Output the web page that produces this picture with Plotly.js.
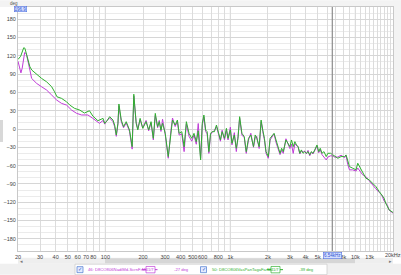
<!DOCTYPE html>
<html><head><meta charset="utf-8">
<script src="https://cdn.plot.ly/plotly-3.0.1.min.js"></script>
<style>html,body{margin:0;padding:0;background:#fff;}#chart{width:401px;height:275px;}</style>
</head><body><div id="chart"></div>
<script>
// ---- data (Hz, degrees) ----
const lowFreqGreen = [20, 21.0, 22.2, 22.7, 23.5, 24.3, 24.9, 25.8, 27.3, 29.0, 30.9, 33.9, 37.2, 39.2, 41.0, 44.6, 48.9, 51.9, 56.7, 62.2, 68.0, 74.6, 79.3, 87.1];
const lowDegGreen  = [114, 119.3, 133.2, 132.4, 121, 109.6, 101.9, 96.5, 92, 88.3, 82.9, 77.3, 69.2, 61, 52.8, 50.2, 44.6, 39.2, 33.8, 31.1, 26.2, 29.9, 21.3, 13.6];

const lowFreqMagenta = [20, 20.4, 21.1, 21.6, 22.6, 23.3, 24.2, 24.9, 25.7, 28.2, 30.9, 33.9, 37.2, 40.8, 44.6, 48.9, 53.6, 58.8, 64.4, 72.4, 79.3, 89.7];
const lowDegMagenta  = [111, 104.6, 92, 99.7, 125.4, 123.4, 110, 96.5, 82.9, 74.7, 69.2, 63.8, 55.6, 47.4, 42, 39.2, 31.1, 25.7, 23, 23, 17.5, 9.3];

const midFreq = [95.8, 98.8, 101.9, 108.2, 115, 118.6, 122.3, 126, 128.3, 134, 139.7, 146.8, 156, 163.8, 168.8, 176.2, 181.6, 189.6, 199, 211.7, 222, 231.9, 241.9, 250.8, 261.8, 269.8, 278.4, 286.6, 301.2, 318.4, 334.3, 344.4, 361.6, 377, 389, 408.6, 426.5, 444.6, 467, 490.9, 511.6, 533.8, 553.3, 578, 596, 614, 634, 652, 673, 694, 714, 746, 774, 807, 833, 859, 897, 930, 958, 1000, 1030, 1076, 1116, 1151, 1186, 1237, 1292, 1340, 1397, 1458, 1531, 1580, 1626, 1700, 1762, 1816, 1873, 1930, 2014, 2078, 2168, 2236, 2319, 2420, 2497, 2571, 2650, 2784, 2904, 2994, 3085, 3183, 3283, 3381, 3486, 3595, 3700, 3816, 3938, 4053, 4183, 4315, 4443, 4585, 4730, 4933, 5090, 5240, 5408, 5610, 5848, 6030, 6337, 6606, 6818, 7244, 7690, 8185, 8433, 8690, 8974, 9526, 10120, 10450, 10960, 11430, 12140, 12910, 13740, 14590, 15520, 16260, 16980, 17500, 18070, 18620, 20000];
const midDegGreen = [17.4, 9.3, 12, 20.2, 14.7, 6.5, -9.8, 9.3, 41, 14.7, 3.8, 12, -1.6, -28.9, 57, 9.3, -1.6, 17.4, 1.1, 12, -1.6, 12, -15.3, 25.6, 3.8, 12, -1.6, 9.3, -7.1, -45.2, -1.6, 14.7, 6.5, 14.7, -7.1, -4.4, -28.9, 12, -7.1, -15.3, -7.1, -20.7, -3, -50.7, 9.3, 22.9, -1.6, -4.4, -37.1, -7.1, -4.4, -4.4, 6.5, -9.8, -18, -4.4, -15.3, 1.1, -15.3, -1.6, -23.4, -9.8, -31.6, -15.3, 20.2, -7.1, -12.5, -37.1, -15.3, -9.8, -28.9, -9.8, -15.3, -28.9, 14.7, -1.6, -15.3, -37.1, -45.2, -15.3, -9.8, -7.1, -18, -31.6, -39.8, -31.6, -37.1, -18, -23.4, -28.9, -18, -28.9, -20.7, -26.2, -28.9, -39.8, -34.3, -39.8, -37.1, -39.8, -37.1, -42.5, -37.1, -39.8, -34.3, -26.2, -37.1, -31.6, -39.8, -37.1, -45.2, -39.8, -39.8, -42.5, -45.2, -48, -45.2, -45.2, -42.5, -50.7, -61.6, -64.3, -67, -56.1, -64.3, -72.5, -80.7, -83.4, -88.9, -94.3, -102.5, -108, -113.4, -121.6, -127, -132.5, -136.8];
const midDegMagenta = [14, 8, 13, 18, 12, 4, -12, 8, 38, 12, 2, 10, -4, -33, 54, 12, 0, 15, 2, 14, -3, 10, -18, 22, 2, 14, -4, 16, -9, -48, -3, 18, 4, 12, -10, -8, -37.1, 8, -12, -20, -10, -25, 9, -48, 6, 20, -4, -8, -40, -9, -6, -2, 4, -12, -20, -2, -18, -2, -18, 3, -26, -6, -37, -12, 18, -10, -14, -40, -18, -7, -30, -14, -12, -32, 12, -4, -18, -40, -48, -18, -12, -8, -22, -36, -42, -35, -40, -16, -27, -32, -25, -40, -24, -28, -30, -41, -36, -38, -36, -41, -35, -44, -38, -41, -36, -28, -39, -34, -42, -46, -50.7, -46, -44, -44, -46, -46, -43, -47, -44, -58, -67, -67, -69, -64, -70, -75, -78, -85, -92, -98, -104, -108, -118, -122, -125, -133, -138];

const xTickVals = [20,30,40,50,60,70,80,90,100,200,300,400,500,600,700,800,900,1000,2000,3000,4000,5000,6000,7000,8000,9000,10000,11000,12000,13000,14000,15000,16000,17000,18000,19000];
const xTickText = ['20','30','40','50','60','70','80','','100','200','300','400','500','600','','800','','1k','2k','3k','4k','5k','','','8k','','10k','','','13k','','','','','',''];
const xEndLabel = '20kHz';

const legendNames = ['46: D8CO806NadiMd-ScrnF-M4', '50: D8CO806VasPanTagaFa-M4'];
const legendOffsets = ['-27 deg', '-39 deg'];
const cursorFreq = 6540;
const cursorLabel = '6.54kHz';

// ---- layout helpers (pixel positions) ----
const L = 18, R = 393, T = 6.7, B = 251.3;
const px = x => (x - L) / (R - L);
const py = y => (B - y) / (B - T);
const MAG = '#c03cd8', GRN = '#2fb02f';

const shapes = [];
const ann = [];
function rectPx(x0, y0, x1, y1, fill, line, layer) {
  shapes.push({type:'rect', xref:'paper', yref:'paper', x0:px(x0), x1:px(x1), y0:py(y1), y1:py(y0),
    fillcolor:fill, line:{color:line||fill, width: line?0.7:0}, layer: layer||'below'});
}
function textPx(x, y, t, color, size, anchor, extra) {
  ann.push(Object.assign({xref:'paper', yref:'paper', x:px(x), y:py(y), text:t, showarrow:false,
    xanchor:anchor||'center', yanchor:'middle', font:{family:'Liberation Sans, Arial', size:size||5, color:color||'#444'}}, extra||{}));
}

// frame regions
rectPx(0, 0, 401, 6.7, '#f3f3f3');
rectPx(393, 0, 401, 258, '#f3f3f3');
rectPx(0, 120, 3, 142, '#d8d8d8');
rectPx(18, 258, 393, 264, '#eeeeee');
rectPx(105, 258.5, 355, 263.5, '#d6d6d6');
rectPx(0, 264, 401, 275, '#f0f0f0');
rectPx(75, 264.5, 327, 275, '#ffffff', '#c8c8c8');
textPx(21, 261, '◂', '#777', 5);
textPx(390, 261, '▸', '#777', 5);
textPx(393, 255.2, xEndLabel, '#444', 5.5);

// decade lines and cursor (data positions)
[100, 1000, 10000].forEach(f => shapes.push({type:'line', xref:'x', yref:'paper', x0:f, x1:f, y0:0, y1:1,
  line:{color:'#c6c6c6', width:1}, layer:'below'}));
shapes.push({type:'line', xref:'x', yref:'paper', x0:cursorFreq, x1:cursorFreq, y0:0, y1:1,
  line:{color:'#8c8c8c', width:1.2}, layer:'above'});

// top-left axis readout
textPx(14, 3, 'deg', '#555', 4.5);
textPx(20, 9.2, '196.9', '#3050d0', 4.5, 'center', {bgcolor:'#d6e0ff', bordercolor:'#5070e0', borderwidth:0.6, borderpad:0});
// cursor readout on x axis
ann.push({xref:'x', yref:'paper', x:Math.log10(cursorFreq), y:py(255.5), text:cursorLabel, showarrow:false,
  xanchor:'center', yanchor:'middle', font:{family:'Liberation Sans, Arial', size:4.5, color:'#3050d0'},
  bgcolor:'#d6e0ff', bordercolor:'#5070e0', borderwidth:0.6, borderpad:0.5});

// legend row
const legendItems = [
  {cb:80, name:86, lx0:141.5, lx1:157.5, bx0:146, bx1:155, off:181, color:MAG},
  {cb:203.5, name:209.5, lx0:266.5, lx1:283, bx0:271, bx1:280, off:306.5, color:GRN}
];
legendItems.forEach((it, i) => {
  rectPx(it.cb-3, 267, it.cb+3, 273, '#e4ecff', '#4a78d0', 'above');
  textPx(it.cb, 270, '✓', '#2a55c8', 4.5);
  textPx(it.name, 270, legendNames[i], it.color, 4.2, 'left');
  shapes.push({type:'line', xref:'paper', yref:'paper', x0:px(it.lx0), x1:px(it.lx1), y0:py(270), y1:py(270), line:{color:it.color, width:1}});
  rectPx(it.bx0, 266.8, it.bx1, 273.2, '#ffffff', it.color, 'above');
  textPx((it.bx0+it.bx1)/2, 270, '1/7', it.color, 4);
  textPx(it.off, 270, legendOffsets[i], it.color, 4.2);
});

const traces = [
  {x: lowFreqMagenta.concat(midFreq), y: lowDegMagenta.concat(midDegMagenta), type:'scatter', mode:'lines',
   line:{color:MAG, width:1}, hoverinfo:'skip'},
  {x: lowFreqGreen.concat(midFreq), y: lowDegGreen.concat(midDegGreen), type:'scatter', mode:'lines',
   line:{color:GRN, width:1}, hoverinfo:'skip'}
];

const layout = {
  width:401, height:275, margin:{l:L, r:401-R, t:T, b:275-B, pad:0},
  paper_bgcolor:'#ffffff', plot_bgcolor:'#ffffff', showlegend:false,
  font:{family:'Liberation Sans, Arial', size:5.5, color:'#444'},
  xaxis:{type:'log', range:[Math.log10(19.99), Math.log10(20010)], tickmode:'array', tickvals:xTickVals, ticktext:xTickText,
    tickangle:0, showgrid:true, gridcolor:'#dcdcdc', gridwidth:1, zeroline:false, ticks:'', ticklen:0,
    showline:true, linecolor:'#c8c8c8', linewidth:1, mirror:true, tickfont:{size:5.5, color:'#444'}, fixedrange:true},
  yaxis:{range:[-200, 200], tickmode:'linear', tick0:0, dtick:30, showgrid:true, gridcolor:'#d6d6d6', gridwidth:1,
    minor:{tick0:0, dtick:10, showgrid:true, gridcolor:'#ebebeb', gridwidth:1, ticks:''},
    zeroline:false, ticks:'', showline:true, linecolor:'#c8c8c8', linewidth:1, mirror:true,
    tickfont:{size:5.5, color:'#444'}, fixedrange:true},
  shapes:shapes, annotations:ann
};
Plotly.newPlot('chart', traces, layout, {staticPlot:true, displayModeBar:false});
</script>
</body></html>
